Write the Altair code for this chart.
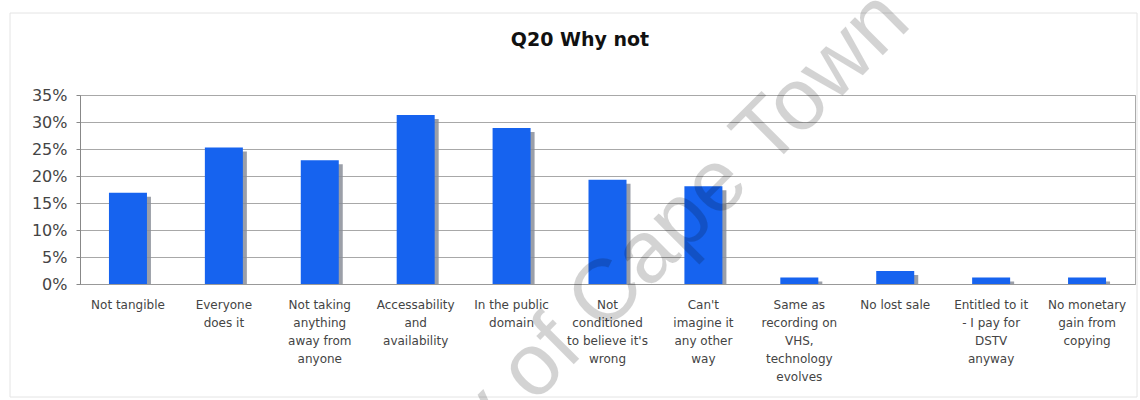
import altair as alt
import pandas as pd

# ---- data ----
categories = [
    "Not tangible",
    "Everyone|does it",
    "Not taking|anything|away from|anyone",
    "Accessability|and|availability",
    "In the public|domain",
    "Not|conditioned|to believe it's|wrong",
    "Can't|imagine it|any other|way",
    "Same as|recording on|VHS,|technology|evolves",
    "No lost sale",
    "Entitled to it|- I pay for|DSTV|anyway",
    "No monetary|gain from|copying",
]
shares = [0.169, 0.253, 0.229, 0.313, 0.289, 0.193, 0.181, 0.012, 0.024, 0.012, 0.012]
y_ticks = [0.0, 0.05, 0.10, 0.15, 0.20, 0.25, 0.30, 0.35]
title_text = "Q20 Why not"
watermark_text = "University of Cape Town"

W, H = 1055, 189
FONT = "DejaVu Sans"

df = pd.DataFrame({"reason": categories, "share": shares})

x_enc = alt.X(
    "reason:N",
    sort=categories,
    title=None,
    scale=alt.Scale(paddingInner=0, paddingOuter=0),
    axis=alt.Axis(
        labelExpr="split(datum.label, '|')",
        labelAngle=0,
        labelFont=FONT,
        labelFontSize=12,
        labelLineHeight=18,
        labelColor="#444444",
        labelPadding=15,
        labelLimit=200,
        labelOverlap=False,
        ticks=False,
        domainColor="#999999",
        grid=False,
    ),
)
y_enc = alt.Y(
    "share:Q",
    title=None,
    scale=alt.Scale(domain=[0, 0.35], nice=False),
    axis=alt.Axis(
        values=y_ticks,
        format=".0%",
        labelFont=FONT,
        labelFontSize=16,
        labelColor="#444444",
        tickSize=4,
        tickColor="#888888",
        labelPadding=9,
        gridColor="#a8a8a8",
        domainColor="#888888",
    ),
)

frame = alt.Chart(pd.DataFrame({"a": [0]})).mark_rect(
    fillOpacity=0, stroke="#e4e4e4", strokeWidth=1
).encode(
    x=alt.value(-70), x2=alt.value(1057), y=alt.value(-82), y2=alt.value(302)
)

shadow = alt.Chart(df).mark_bar(
    size=38, xOffset=4, yOffset=4, color="#8a8e99", opacity=0.85
).encode(x=x_enc, y=y_enc, y2=alt.value(H - 4))

bars = alt.Chart(df).mark_bar(size=38, color="#1663ef").encode(x=x_enc, y=y_enc)

title = alt.Chart(pd.DataFrame({"t": [title_text]})).mark_text(
    font=FONT, fontWeight="bold", fontSize=19, color="#111111",
    align="center", baseline="middle"
).encode(text="t:N", x=alt.value(500), y=alt.value(-55))

watermark = alt.Chart(pd.DataFrame({"t": [watermark_text]})).mark_text(
    font="Liberation Sans", fontSize=88, angle=315, align="right",
    baseline="alphabetic", color="#000000", opacity=0.17
).encode(text="t:N", x=alt.value(833), y=alt.value(-70))

chart = alt.layer(frame, shadow, bars, title, watermark).properties(
    width=W,
    height=H,
    autosize="none",
    padding={"left": 80, "top": 95, "right": 5, "bottom": 116},
    background="white",
).configure_view(stroke="#aaaaaa")

chart.save("out.html", embed_options={"renderer": "svg", "actions": False})
